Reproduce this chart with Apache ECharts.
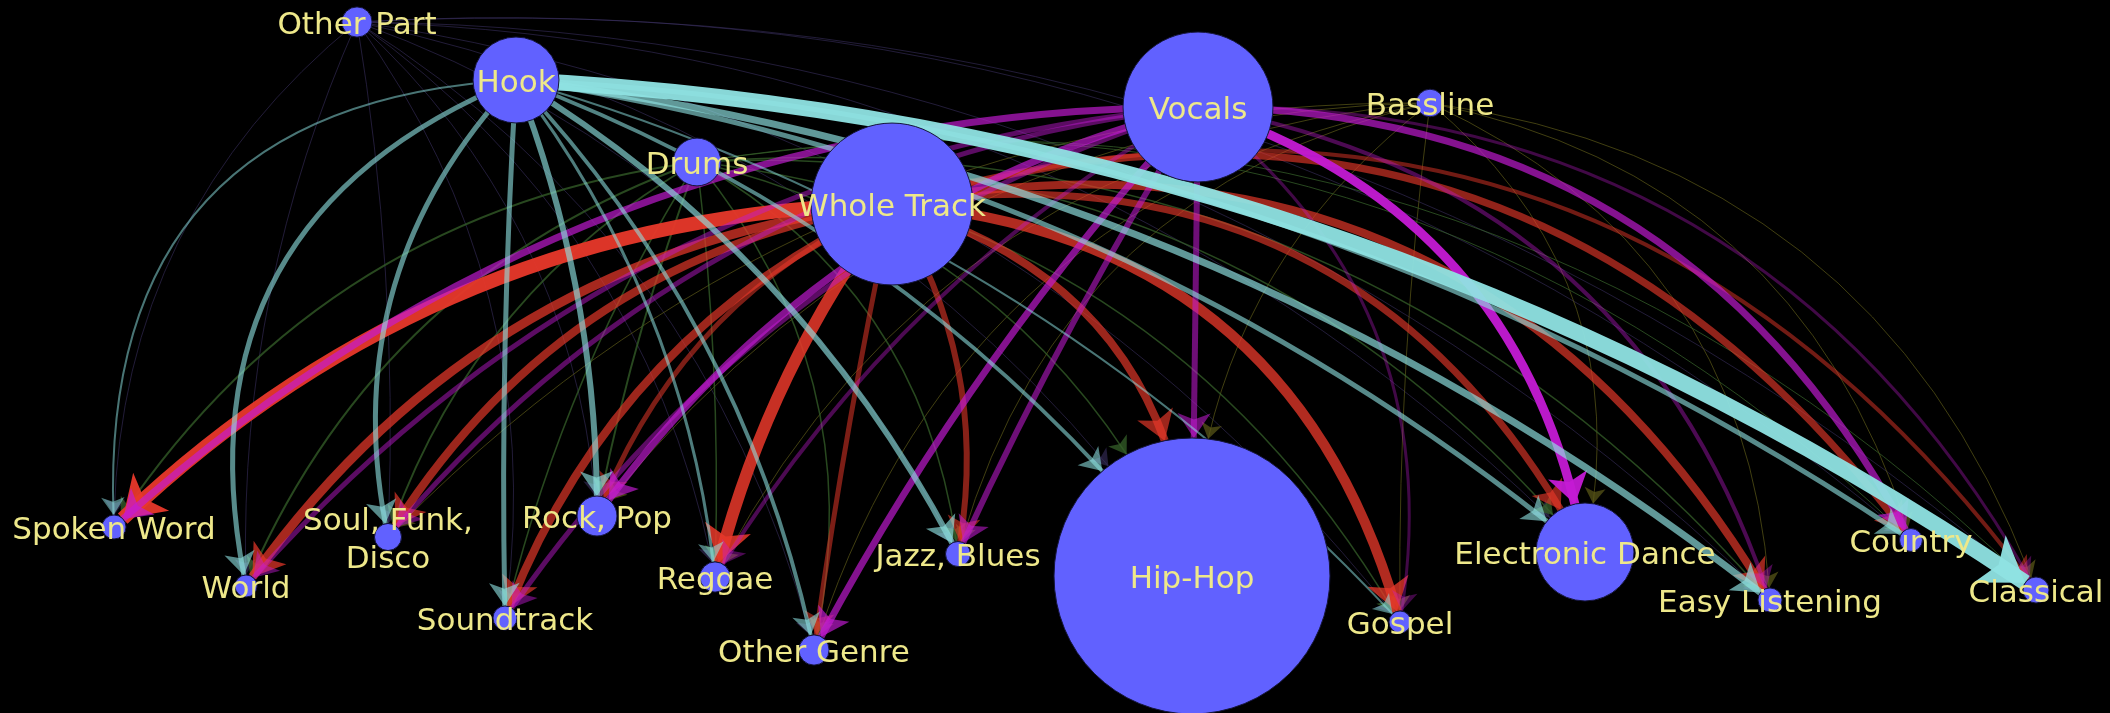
<!DOCTYPE html>
<html>
<head>
<meta charset="utf-8">
<script src="https://cdn.jsdelivr.net/npm/echarts@6/dist/echarts.min.js"></script>
<style>
  html, body { margin: 0; padding: 0; background: #000; }
  #main { width: 2110px; height: 713px; }
</style>
</head>
<body>
<div id="main"></div>
<script>
// song parts (sources)
var parts = ['Other Part', 'Hook', 'Vocals', 'Bassline', 'Drums', 'Whole Track'];
var partWeight = [1.2, 9.7, 29.5, 1.0, 3.0, 34.4];
var partX = [357, 516, 1198, 1430, 697, 892];
var partY = [22, 80, 107, 103, 162, 204];

// genres (targets)
var genres = ['Spoken Word', 'World', 'Soul, Funk, Disco', 'Soundtrack', 'Rock, Pop', 'Reggae', 'Other Genre',
  'Jazz, Blues', 'Hip-Hop', 'Gospel', 'Electronic Dance', 'Easy Listening', 'Country', 'Classical'];
var genreLabels = ['Spoken Word', 'World', 'Soul, Funk,\nDisco', 'Soundtrack', 'Rock, Pop', 'Reggae', 'Other Genre',
  'Jazz, Blues', 'Hip-Hop', 'Gospel', 'Electronic Dance', 'Easy Listening', 'Country', 'Classical'];
var genreWeight = [0.76, 0.64, 0.96, 0.76, 2.1, 1.2, 1.2, 0.82, 100, 0.64, 12.6, 0.76, 0.69, 0.89];
var genreX = [114, 246, 388, 505, 597, 715, 814, 958, 1192, 1400, 1585, 1770, 1911, 2036];
var genreY = [527, 586, 537, 618, 516, 577, 650, 554, 576, 622, 552, 600, 540, 590];

// link weights per part, in genre order
var otherPartLinks = [1, 1, 1, 1, 1, 1, 1, 1, 1, 1, 1, 1, 1, 1];
var basslineLinks = [0, 0, 1, 0, 1, 1, 1, 1, 1, 1, 1, 1, 1, 1];
var drumsLinks = [2, 2, 2, 1.5, 2, 1.5, 1.5, 1.5, 1.5, 1.5, 1.5, 1.5, 1, 1];
var wholeTrackLinks = [14, 9, 8, 8, 5, 12, 5, 6, 8, 10, 7, 8, 7, 4];
var vocalsLinks = [7, 5, 5, 5, 7, 4, 7, 6, 6, 3, 9, 4, 7, 3];
var hookLinks = [2, 5, 5, 5, 6, 3, 4, 6, 4, 2, 5, 7, 5, 16];

var R = 13.8; // radius per sqrt(weight)

var nodes = [];
parts.forEach(function (p, i) {
  nodes.push({ name: p, value: [partX[i], partY[i]], symbolSize: 2 * R * Math.sqrt(partWeight[i]) });
});
genres.forEach(function (g, i) {
  nodes.push({
    name: g, value: [genreX[i], genreY[i]], symbolSize: 2 * R * Math.sqrt(genreWeight[i]),
    label: { formatter: genreLabels[i] }
  });
});

var links = [];
// s: colour, opacity range; edges to the right bend by a fixed amount,
// edges to the left bend more the flatter they are
function addLinks(part, weights, s) {
  var i = parts.indexOf(part);
  var max = Math.max.apply(null, weights);
  weights.forEach(function (w, j) {
    if (!w) return;
    var dx = genreX[j] - partX[i];
    var dy = genreY[j] - partY[i];
    var d2 = dx * dx + dy * dy;
    var c;
    if (dx > 0) {
      c = s.right * Math.min(1, dx / 120);
    } else {
      c = s.left[0] * dx * dy / d2 * Math.pow(Math.abs(dx) / Math.sqrt(d2), s.left[1]);
    }
    links.push({
      source: part,
      target: genres[j],
      symbolSize: [w * 1.6 + 10, w * 1.8 + 14],
      lineStyle: {
        width: w,
        color: s.color,
        opacity: s.opMin + (s.opMax - s.opMin) * Math.pow(w / max, s.pow || 1),
        curveness: c
      }
    });
  });
}
addLinks('Other Part', otherPartLinks, { color: '#3e3366', opMin: 0.55, opMax: 0.55, left: [0.6, 0], right: 0.2 });
addLinks('Bassline', basslineLinks, { color: '#5c5a18', opMin: 0.7, opMax: 0.7, left: [0.6, 0], right: 0.3 });
addLinks('Drums', drumsLinks, { color: '#35602a', opMin: 0.75, opMax: 0.75, left: [0.6, 1], right: 0.25 });
addLinks('Whole Track', wholeTrackLinks, { color: '#e8382a', opMin: 0.3, opMax: 0.95, left: [0.6, 1], right: 0.35 });
addLinks('Vocals', vocalsLinks, { color: '#c41ad4', opMin: 0.25, opMax: 0.95, pow: 2, left: [0.7, 3], right: 0.3 });
addLinks('Hook', hookLinks, { color: '#8fe3e3', opMin: 0.45, opMax: 0.95, left: [1.0, 0], right: 0.14 });

var chart = echarts.init(document.getElementById('main'));
chart.setOption({
  backgroundColor: '#000',
  animation: false,
  grid: { left: 0, right: 0, top: 0, bottom: 0 },
  xAxis: { type: 'value', min: 0, max: 2110, show: false },
  yAxis: { type: 'value', min: 0, max: 713, inverse: true, show: false },
  series: [{
    type: 'graph',
    coordinateSystem: 'cartesian2d',
    layout: 'none',
    edgeSymbol: ['none', 'arrow'],
    data: nodes,
    links: links,
    itemStyle: { color: '#6161ff', borderColor: '#15153a', borderWidth: 1 },
    label: {
      show: true,
      position: 'inside',
      offset: [0, 4],
      color: '#eee88a',
      fontFamily: 'DejaVu Sans',
      fontSize: 31,
      lineHeight: 38
    },
    emphasis: { disabled: true }
  }]
});
</script>
</body>
</html>
